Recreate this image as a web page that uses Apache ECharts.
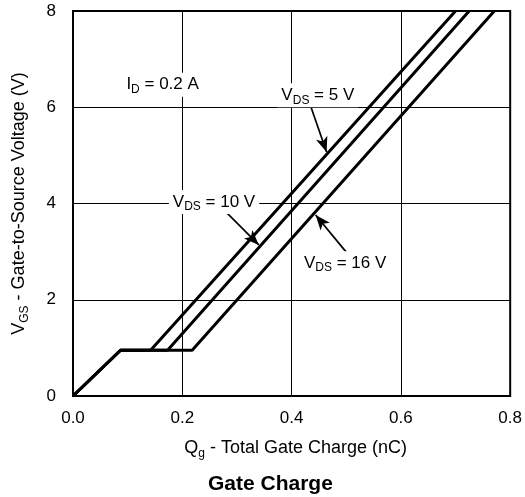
<!doctype html>
<html lang="en">
<head>
    <meta charset="UTF-8">
    <title>Gate Charge</title>
    <script src="https://cdn.jsdelivr.net/npm/echarts@6/dist/echarts.min.js"></script>
    <style>
        html, body { margin: 0; padding: 0; background: #fff; }
        #main { width: 525px; height: 497px; }
    </style>
</head>
<body>
<div id="main"></div>
<script>
    // data (Qg in nC, VGS in V)
    var vgs = [0, 0.95, 0.95, 8];
    var qgVds5 = [0, 0.087, 0.142, 0.700];
    var qgVds10 = [0, 0.087, 0.173, 0.725];
    var qgVds16 = [0, 0.087, 0.218, 0.771];

    var xTicks = [0, 0.2, 0.4, 0.6, 0.8];
    var yTicks = [0, 2, 4, 6, 8];

    // annotation text positions and arrows, in data units
    var notes = [
        {text: '{n|I}{s|D}{n| = 0.2 A}', at: [0.164, 6.47]},
        {text: '{n|V}{s|DS}{n| = 5 V}', at: [0.448, 6.25]},
        {text: '{n|V}{s|DS}{n| = 10 V}', at: [0.258, 4.03]},
        {text: '{n|V}{s|DS}{n| = 16 V}', at: [0.498, 2.76]}
    ];
    var arrows = [
        [[0.431, 6.15], [0.464, 5.07]],
        [[0.282, 3.80], [0.340, 3.14]],
        [[0.500, 2.99], [0.444, 3.76]]
    ];

    function pairs(xs, ys) {
        var out = [];
        for (var i = 0; i < xs.length; i++) out.push([xs[i], ys[i]]);
        return out;
    }

    var font = 'Liberation Sans, Arial, sans-serif';

    function subRich(size, subSize) {
        return {
            n: {fontSize: size, fontFamily: font, color: '#000', lineHeight: size + 5, verticalAlign: 'middle'},
            s: {fontSize: subSize, fontFamily: font, color: '#000', lineHeight: subSize, verticalAlign: 'bottom'}
        };
    }

    function curve(name, xs) {
        return {
            name: name,
            type: 'line',
            data: pairs(xs, vgs),
            symbol: 'none',
            lineStyle: {color: '#000', width: 3},
            z: 5
        };
    }

    var myChart = echarts.init(document.getElementById('main'));

    var arrowSeries = curve('arrows', []);
    arrowSeries.markLine = {
        silent: true,
        symbol: ['none', 'arrow'],
        symbolSize: [9, 15],
        label: {show: false},
        lineStyle: {color: '#000', width: 1.7, type: 'solid'},
        data: arrows.map(function (a) {
            return [{coord: a[0]}, {coord: a[1]}];
        })
    };

    var option = {
        animation: false,
        backgroundColor: '#fff',
        title: {
            text: 'Gate Charge',
            left: 203,
            top: 469,
            textStyle: {fontFamily: font, fontSize: 21, fontWeight: 'bold', color: '#000'}
        },
        grid: {
            left: 73, right: 12, top: 11, bottom: 101,
            show: true, borderColor: '#000', borderWidth: 2
        },
        xAxis: {
            type: 'value',
            min: xTicks[0], max: xTicks[xTicks.length - 1], interval: 0.2,
            axisLine: {show: true, lineStyle: {color: '#000', width: 2}},
            axisTick: {show: false},
            splitLine: {lineStyle: {color: '#000', width: 1}},
            axisLabel: {
                color: '#000', fontSize: 17, fontFamily: font, margin: 14,
                formatter: function (v) { return v.toFixed(1); }
            },
            name: '{n|Q}{s|g}{n| - Total Gate Charge (nC)}',
            nameLocation: 'middle',
            nameGap: 41,
            nameTextStyle: {rich: subRich(18, 12), padding: [0, 0, 0, 8]}
        },
        yAxis: {
            type: 'value',
            min: yTicks[0], max: yTicks[yTicks.length - 1], interval: 2,
            axisLine: {show: true, lineStyle: {color: '#000', width: 2}},
            axisTick: {show: false},
            splitLine: {lineStyle: {color: '#000', width: 1}},
            axisLabel: {color: '#000', fontSize: 17, fontFamily: font, margin: 17},
            name: '{n|V}{s|GS}{n| - Gate-to-Source Voltage (V)}',
            nameLocation: 'middle',
            nameGap: 42,
            nameTextStyle: {rich: subRich(18, 12)}
        },
        series: [
            curve('VDS = 5 V', qgVds5),
            curve('VDS = 10 V', qgVds10),
            curve('VDS = 16 V', qgVds16),
            arrowSeries
        ]
    };
    myChart.setOption(option);

    // place the annotation labels (white box hides the grid behind them)
    myChart.setOption({
        graphic: notes.map(function (n) {
            var p = myChart.convertToPixel({gridIndex: 0}, n.at);
            return {
                type: 'text',
                x: p[0], y: p[1],
                z: 10,
                style: {
                    text: n.text,
                    rich: subRich(17, 12),
                    align: 'center',
                    verticalAlign: 'middle',
                    backgroundColor: '#fff',
                    padding: [1, 4, 1, 4]
                }
            };
        })
    });
</script>
</body>
</html>
